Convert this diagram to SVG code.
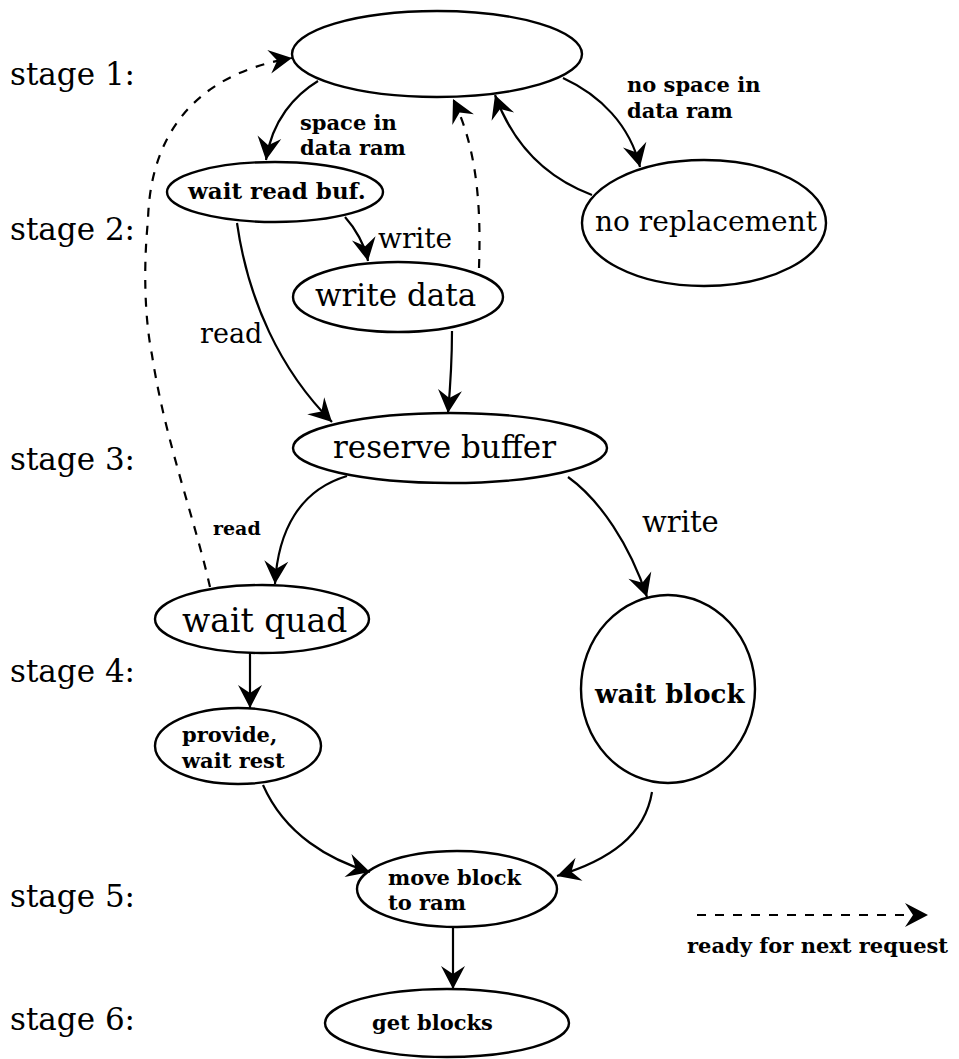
<svg xmlns="http://www.w3.org/2000/svg" width="959" height="1059" viewBox="0 0 959 1059">
  <defs>
    <style>
      .node { fill: none; stroke: #000; stroke-width: 2.4; }
      .edge { fill: none; stroke: #000; stroke-width: 2.2; marker-end: url(#head); }
      .dash { stroke-dasharray: 9 9; }
      .stage { font-family: "DejaVu Serif", serif; font-size: 31px; fill: #000; }
      .big { font-family: "DejaVu Serif", serif; font-size: 29px; fill: #000; }
      .small { font-family: "DejaVu Serif", serif; font-weight: bold; font-size: 21px; fill: #000; }
    </style>
    <marker id="head" viewBox="-26 -14 28 28" refX="0" refY="0" markerWidth="28" markerHeight="28" markerUnits="userSpaceOnUse" orient="auto">
      <path d="M0 0 L-23 -12 L-15 0 L-23 12 Z" fill="#000"/>
    </marker>
  </defs>
  <rect width="959" height="1059" fill="#fff"/>

  <!-- stage labels -->
  <g id="stages">
    <text class="stage" x="10" y="85">stage 1:</text>
    <text class="stage" x="10" y="240">stage 2:</text>
    <text class="stage" x="10" y="470">stage 3:</text>
    <text class="stage" x="10" y="682">stage 4:</text>
    <text class="stage" x="10" y="907">stage 5:</text>
    <text class="stage" x="10" y="1030">stage 6:</text>
  </g>

  <!-- states -->
  <g id="idle"><ellipse class="node" cx="437" cy="54" rx="145" ry="43"/></g>
  <g id="wait-read-buf">
    <ellipse class="node" cx="275" cy="192" rx="108" ry="30"/>
    <text class="small" x="188" y="199" style="font-size:23px">wait read buf.</text>
  </g>
  <g id="write-data">
    <ellipse class="node" cx="398" cy="297" rx="105" ry="35"/>
    <text class="big" x="315" y="306" style="font-size:31px">write data</text>
  </g>
  <g id="no-replacement">
    <ellipse class="node" cx="704" cy="223" rx="122" ry="63"/>
    <text class="big" x="595" y="231" style="font-size:28px">no replacement</text>
  </g>
  <g id="reserve-buffer">
    <ellipse class="node" cx="450" cy="448" rx="157" ry="35"/>
    <text class="big" x="333" y="458" style="font-size:31px">reserve buffer</text>
  </g>
  <g id="wait-quad">
    <ellipse class="node" cx="262" cy="619" rx="107" ry="34"/>
    <text class="big" x="182" y="632" style="font-size:33px">wait quad</text>
  </g>
  <g id="wait-block">
    <ellipse class="node" cx="668" cy="689" rx="87" ry="94"/>
    <text class="small" x="595" y="703" style="font-size:26px">wait block</text>
  </g>
  <g id="provide-wait-rest">
    <ellipse class="node" cx="238" cy="746" rx="83" ry="38"/>
    <text class="small" x="182" y="742">provide,</text>
    <text class="small" x="182" y="768">wait rest</text>
  </g>
  <g id="move-block">
    <ellipse class="node" cx="457" cy="889" rx="100" ry="38"/>
    <text class="small" x="388" y="885">move block</text>
    <text class="small" x="388" y="910">to ram</text>
  </g>
  <g id="get-blocks">
    <ellipse class="node" cx="447" cy="1023" rx="122" ry="34"/>
    <text class="small" x="372" y="1030">get blocks</text>
  </g>

  <!-- transitions -->
  <g id="connectors">
    <path class="edge" d="M318 81 C295 95 272 120 266 160"/>
    <path class="edge" d="M563 78 C600 95 630 125 640 167"/>
    <path class="edge" d="M592 195 C552 180 515 150 495 95"/>
    <path class="edge" d="M345 217 C355 228 365 245 368 261"/>
    <path class="edge" d="M237 223 C248 300 280 370 332 422"/>
    <path class="edge" d="M452 331 C452 360 450 390 448 413"/>
    <path class="edge" d="M347 476 C300 490 278 530 275 584"/>
    <path class="edge" d="M568 477 C600 500 630 545 647 597"/>
    <path class="edge" d="M250 653 L250 708"/>
    <path class="edge" d="M263 785 C285 835 330 860 370 872"/>
    <path class="edge" d="M652 792 C645 835 610 860 557 876"/>
    <path class="edge" d="M453 927 L453 989"/>
    <path class="edge dash" d="M210 587 C195 520 165 440 152 355 C145 320 143 270 148 220 C150 140 190 75 292 58"/>
    <path class="edge dash" d="M479 268 C481 210 478 150 453 99"/>
    <path class="edge dash" d="M697 915 L928 915"/>
  </g>

  <!-- edge labels -->
  <g id="labels">
    <text class="small" x="300" y="130">space in</text>
    <text class="small" x="300" y="155">data ram</text>
    <text class="small" x="627" y="92">no space in</text>
    <text class="small" x="627" y="118">data ram</text>
    <text class="big" x="378" y="248" style="font-size:28px">write</text>
    <text class="big" x="200" y="343" style="font-size:27px">read</text>
    <text class="small" x="213" y="535" style="font-size:19px">read</text>
    <text class="big" x="642" y="532">write</text>
    <text class="small" x="687" y="953">ready for next request</text>
  </g>
</svg>
